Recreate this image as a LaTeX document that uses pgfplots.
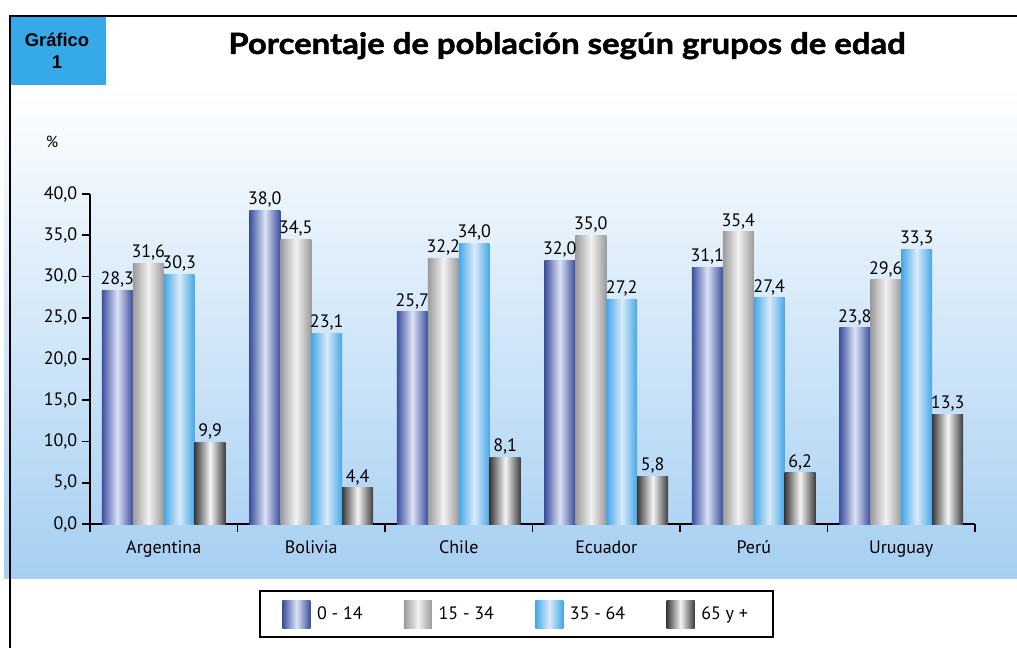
\documentclass[border=0pt]{standalone}
\usepackage{fontspec}
\setmainfont{PT Sans}
\newfontfamily\arialf{Liberation Sans}
\newfontfamily\titlef{Lato}[BoldFeatures={FakeBold=1.6, FakeStretch=1.12}]
\usepackage{pgfplots}
\usepackage{pgfplotstable}
\pgfplotsset{compat=1.18}
\definecolor{boxblue}{HTML}{36A9E8}
\definecolor{bgblue}{HTML}{A6CFF2}
\definecolor{aDark}{HTML}{3B4E9E}\definecolor{aLight}{HTML}{DCE3F5}
\definecolor{bDark}{HTML}{9A9A9A}\definecolor{bLight}{HTML}{F2F2F2}
\definecolor{cDark}{HTML}{44A7E8}\definecolor{cLight}{HTML}{DAEAF8}
\definecolor{dDark}{HTML}{3C3C3C}\definecolor{dLight}{HTML}{F5F5F5}
\pgfplotsset{
 barA/.style={draw=none, left color=aDark, right color=aDark, middle color=aLight},
 barB/.style={draw=none, left color=bDark, right color=bDark, middle color=bLight},
 barC/.style={draw=none, left color=cDark, right color=cDark, middle color=cLight},
 barD/.style={draw=none, left color=dDark, right color=dDark, middle color=dLight},
}
\pgfplotstableread{
x a b c d
0.5 28.3 31.6 30.3 9.9
1.5 38.0 34.5 23.1 4.4
2.5 25.7 32.2 34.0 8.1
3.5 32.0 35.0 27.2 5.8
4.5 31.1 35.4 27.4 6.2
5.5 23.8 29.6 33.3 13.3
}\datatable
\begin{document}
\begin{tikzpicture}
\useasboundingbox (0pt,0pt) rectangle (762.75pt,-486pt);
\shade[top color=white, bottom color=bgblue] (3pt,-63.75pt) rectangle (762.75pt,-433.5pt);
\draw[line width=1.9pt, black] (6.75pt,-12pt) -- (762.75pt,-12pt);
\draw[line width=1.9pt, black] (7.5pt,-12pt) -- (7.5pt,-486pt);
\fill[boxblue] (8.4pt,-12.9pt) rectangle (79.5pt,-63.75pt);
\node[font=\arialf\bfseries\fontsize{13.8}{17}\selectfont, align=center] at (42.75pt,-38pt) {Gráfico\\1};
\node[font=\titlef\bfseries\fontsize{22}{25}\selectfont, anchor=base] at (425.25pt,-40.5pt) {Porcentaje de población según grupos de edad};
\node[font=\fontsize{12}{14}\selectfont, anchor=base] at (39pt,-111pt) {\%};
\begin{axis}[
 at={(67.5pt,-393pt)}, anchor=south west,
 scale only axis, width=663.75pt, height=247.5pt,
 xmin=0, xmax=6, ymin=0, ymax=40,
 axis x line*=bottom, axis y line*=left,
 axis line style={line width=1.4pt, black},
 tick align=outside, major tick length=6pt,
 tick style={line width=1.2pt, black},
 xtick={0,...,6}, xticklabels={},
 extra x ticks={0.5,1.5,...,5.5},
 extra x tick labels={Argentina,Bolivia,Chile,Ecuador,Perú,Uruguay},
 extra x tick style={major tick length=0pt, xticklabel style={yshift=-9pt}},
 ytick={0,5,...,40},
 /pgf/number format/.cd, fixed, fixed zerofill, precision=1, use comma, assume math mode=true, /pgfplots/.cd,
 ybar=0pt, bar width=0.21,
 nodes near coords,
 nodes near coords style={font=\fontsize{13.5}{16}\selectfont, inner sep=2pt},
 tick label style={font=\fontsize{13.5}{16}\selectfont},
 legend columns=4,
 legend image code/.code={\path[#1, draw=none] (0pt,-10.5pt) rectangle (21pt,10.5pt); \path (24pt,0pt);},
 legend style={at={(axis description cs:0.482,-0.273)}, anchor=center, draw=black, line width=1.5pt, fill=white,
   font=\fontsize{13.5}{16}\selectfont, inner xsep=17pt, inner ysep=7pt,
   /tikz/every even column/.append style={column sep=29pt}},
 clip=false,
]
\pgfplotsinvokeforeach{0,...,5}{
 \addplot[barA, bar shift=-0.315, forget plot, restrict expr to domain={\coordindex}{#1:#1}] table[x=x,y=a]{\datatable};
 \addplot[barB, bar shift=-0.105, forget plot, restrict expr to domain={\coordindex}{#1:#1}] table[x=x,y=b]{\datatable};
 \addplot[barC, bar shift=0.105, forget plot, restrict expr to domain={\coordindex}{#1:#1}] table[x=x,y=c]{\datatable};
 \addplot[barD, bar shift=0.315, forget plot, restrict expr to domain={\coordindex}{#1:#1}] table[x=x,y=d]{\datatable};
}
\addlegendimage{barA}
\addlegendimage{barB}
\addlegendimage{barC}
\addlegendimage{barD}
\legend{0 - 14, 15 - 34, 35 - 64, 65 y +}
\end{axis}
\end{tikzpicture}
\end{document}
